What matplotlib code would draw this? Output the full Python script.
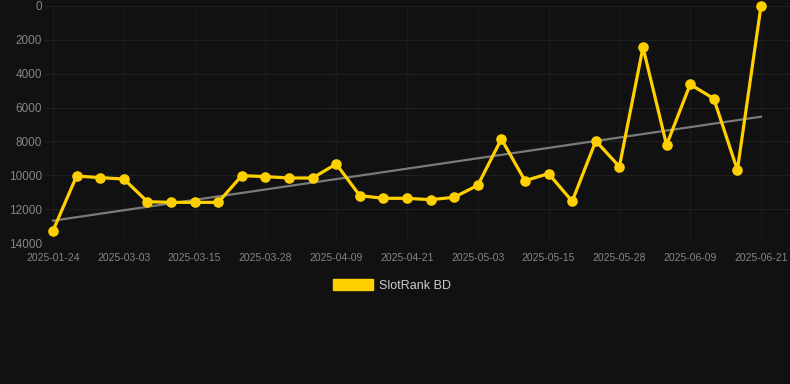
import matplotlib
matplotlib.use("Agg")
import matplotlib.pyplot as plt
from matplotlib.patches import Patch

plt.rcParams["font.family"] = ["Liberation Sans", "DejaVu Sans"]

# data
dates = [
    "2025-01-24", "2025-02-22", "2025-02-26", "2025-03-03", "2025-03-07",
    "2025-03-11", "2025-03-15", "2025-03-19", "2025-03-23", "2025-03-28",
    "2025-04-01", "2025-04-05", "2025-04-09", "2025-04-13", "2025-04-17",
    "2025-04-21", "2025-04-25", "2025-04-29", "2025-05-03", "2025-05-07",
    "2025-05-11", "2025-05-15", "2025-05-19", "2025-05-23", "2025-05-28",
    "2025-06-01", "2025-06-05", "2025-06-09", "2025-06-13", "2025-06-17",
    "2025-06-21",
]
rank = [
    13270, 10040, 10140, 10220, 11560, 11600, 11600, 11600, 10020, 10080,
    10160, 10160, 9330, 11200, 11360, 11360, 11440, 11300, 10590, 7860,
    10320, 9900, 11540, 7970, 9490, 2440, 8210, 4630, 5470, 9690,
    10,
]
trend_ends = [12680, 6540]
series_name = "SlotRank BD"

bg = "#111111"
gold = "#FFD000"
tick_col = "#858585"

fig = plt.figure(figsize=(7.9, 3.84), dpi=100, facecolor=bg)
ax = fig.add_axes([45 / 790, (384 - 243) / 384, (790 - 45) / 790, (243 - 6) / 384])
ax.set_facecolor(bg)

x = list(range(len(dates)))
ax.plot([x[0], x[-1]], trend_ends, color="#7a7a7a", linewidth=1.6, zorder=2)
ax.plot(x, rank, color=gold, linewidth=2.3, marker="o", markersize=6.6,
        markerfacecolor=gold, markeredgecolor=gold, zorder=3, clip_on=False)

ax.set_xlim(-0.34, 31.23)
ax.set_ylim(14000, 0)
ax.set_yticks(range(0, 14001, 2000))
ax.set_yticklabels([str(v) for v in range(0, 14001, 2000)])
ax.set_xticks(x[::3])
ax.set_xticklabels(dates[::3])

ax.grid(True, axis="y", color="#1f1f1f", linewidth=0.9)
ax.grid(True, axis="x", color="#191919", linewidth=0.9)
ax.set_axisbelow(True)
for s in ax.spines.values():
    s.set_visible(False)
ax.tick_params(axis="y", colors=tick_col, labelsize=8.5, length=0, pad=2)
ax.tick_params(axis="x", colors=tick_col, labelsize=7.5, length=0, pad=7)

handle = Patch(facecolor=gold, edgecolor=gold, label=series_name)
fig.legend(handles=[handle], loc="center", bbox_to_anchor=(392 / 790, 1 - 285.5 / 384),
           frameon=False, fontsize=9, labelcolor="#cccccc",
           handlelength=3.2, handleheight=0.9, handletextpad=0.5)

fig.savefig("out.png", dpi=100, facecolor=bg)
